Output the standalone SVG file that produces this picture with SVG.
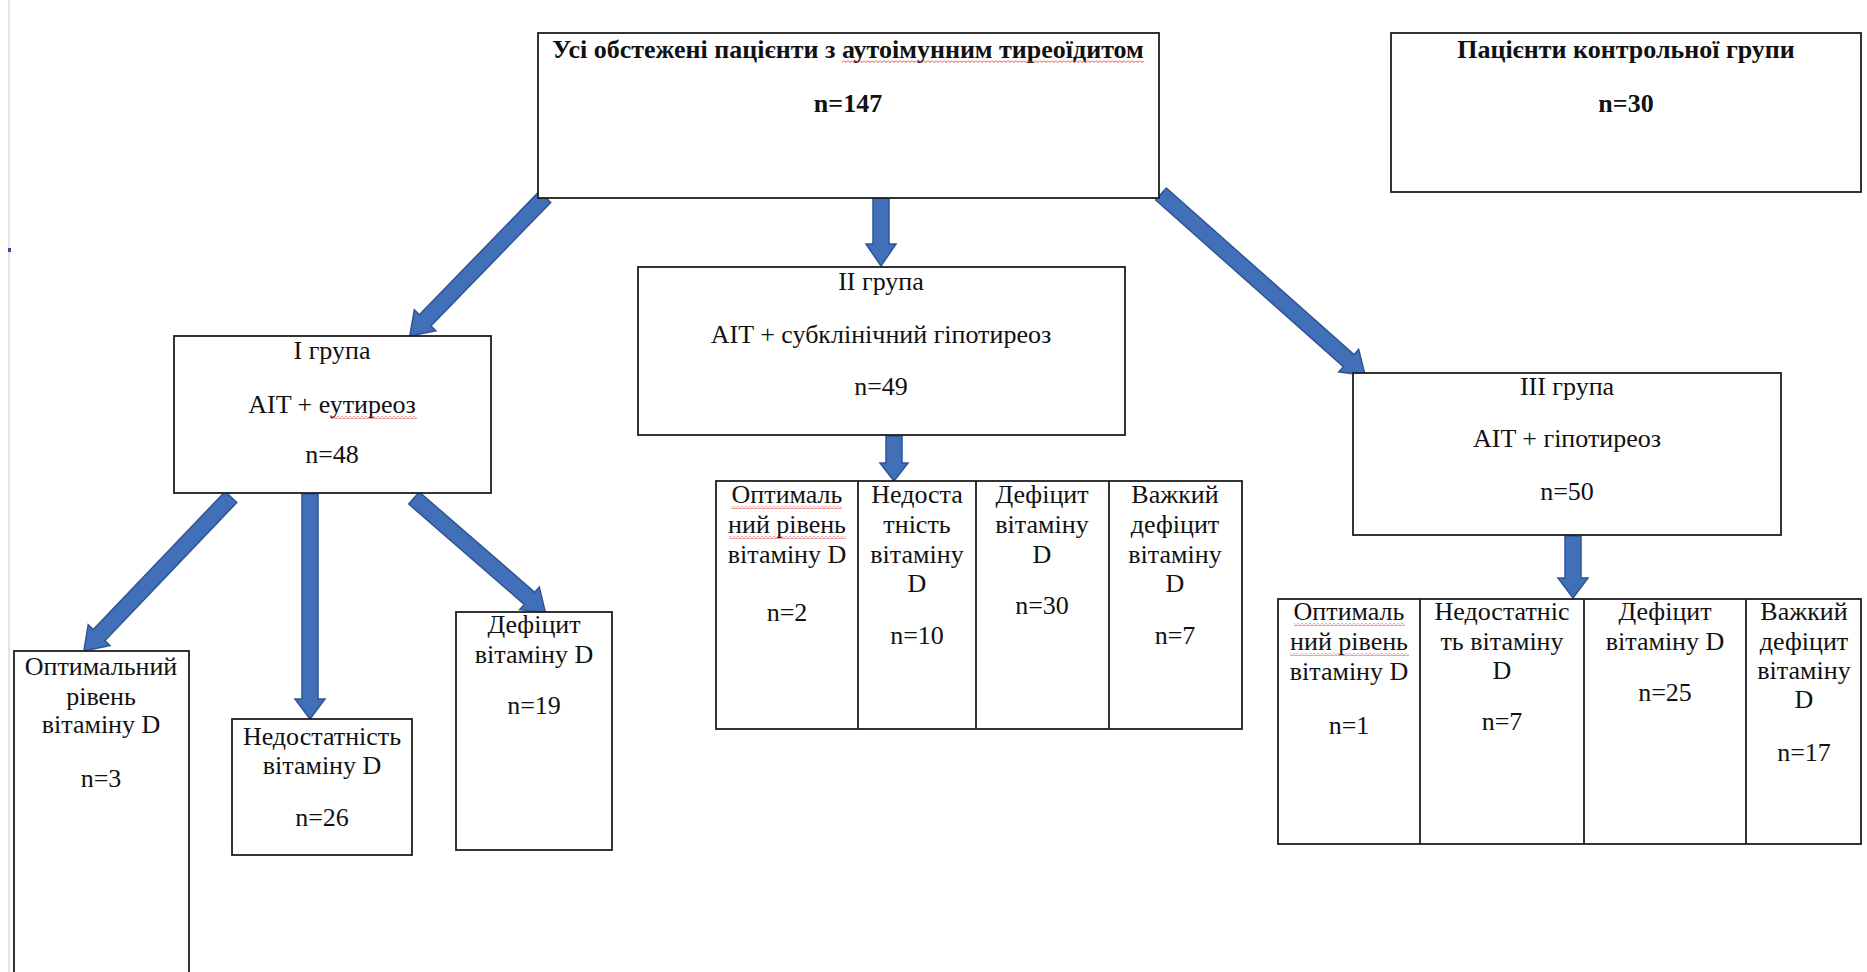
<svg xmlns="http://www.w3.org/2000/svg" width="1867" height="972" viewBox="0 0 1867 972">
<style>
.box{fill:#fff;stroke:#1e1e1e;stroke-width:1.8}
.t{font-family:"Liberation Serif","Times New Roman",serif;font-size:26px;fill:#111;text-anchor:middle}
.b{font-weight:bold}
.arr{fill:#4270b8;stroke:#2e5494;stroke-width:1.5;stroke-linejoin:miter}
.sq{fill:url(#squig)}
</style>
<defs>
<pattern id="squig" patternUnits="userSpaceOnUse" width="4" height="3">
<path d="M0,0.5 L2,2.5 L4,0.5" fill="none" stroke="#e03030" stroke-width="0.9"/>
</pattern>
</defs>
<rect width="1867" height="972" fill="#fff"/>
<line x1="9" y1="0" x2="9" y2="972" stroke="#d4d4d4" stroke-width="1.2"/>
<rect x="8" y="248" width="3" height="4" fill="#3a4aa0"/>

<g id="connectors">
<polygon class="arr" transform="translate(545,197) rotate(134.2)" points="0,-8 172,-8 172,-15 194,0 172,15 172,8 0,8"/>
<polygon class="arr" transform="translate(881,198) rotate(90)" points="0,-8 46,-8 46,-15 68,0 46,15 46,8 0,8"/>
<polygon class="arr" transform="translate(1161,194) rotate(41.6)" points="0,-8 251,-8 251,-15 273,0 251,15 251,8 0,8"/>
<polygon class="arr" transform="translate(894,436) rotate(90)" points="0,-8 27,-8 27,-14 45,0 27,14 27,8 0,8"/>
<polygon class="arr" transform="translate(1573,536) rotate(90)" points="0,-8 42,-8 42,-15 62,0 42,15 42,8 0,8"/>
<polygon class="arr" transform="translate(231,497) rotate(133.7)" points="0,-8 191,-8 191,-15 213,0 191,15 191,8 0,8"/>
<polygon class="arr" transform="translate(310,494) rotate(90)" points="0,-8 205,-8 205,-15 225,0 205,15 205,8 0,8"/>
<polygon class="arr" transform="translate(414,498) rotate(41)" points="0,-8 153,-8 153,-15 174,0 153,15 153,8 0,8"/>
</g>

<g id="all-patients">
<rect class="box" x="538" y="33" width="621" height="165"/>
<text class="t b" x="848" y="58">Усі обстежені пацієнти з аутоімунним тиреоїдитом</text>
<text class="t b" x="848" y="112">n=147</text>
</g>

<g id="control-group">
<rect class="box" x="1391" y="33" width="470" height="159"/>
<text class="t b" x="1626" y="58">Пацієнти контрольної групи</text>
<text class="t b" x="1626" y="112">n=30</text>
</g>

<g id="group-1">
<rect class="box" x="174" y="336" width="317" height="157"/>
<text class="t" x="332" y="359">I група</text>
<text class="t" x="332" y="413">AIT + еутиреоз</text>
<text class="t" x="332" y="463">n=48</text>
</g>

<g id="group-2">
<rect class="box" x="638" y="267" width="487" height="168"/>
<text class="t" x="881" y="290">II група</text>
<text class="t" x="881" y="343">AIT + субклінічний гіпотиреоз</text>
<text class="t" x="881" y="395">n=49</text>
</g>

<g id="group-3">
<rect class="box" x="1353" y="373" width="428" height="162"/>
<text class="t" x="1567" y="395">III група</text>
<text class="t" x="1567" y="447">AIT + гіпотиреоз</text>
<text class="t" x="1567" y="500">n=50</text>
</g>

<g id="g1-optimal">
<rect class="box" x="14" y="651" width="175" height="340"/>
<text class="t" x="101" y="675">Оптимальний</text>
<text class="t" x="101" y="705">рівень</text>
<text class="t" x="101" y="733">вітаміну D</text>
<text class="t" x="101" y="787">n=3</text>
</g>

<g id="g1-insufficient">
<rect class="box" x="232" y="719" width="180" height="136"/>
<text class="t" x="322" y="745">Недостатність</text>
<text class="t" x="322" y="774">вітаміну D</text>
<text class="t" x="322" y="826">n=26</text>
</g>

<g id="g1-deficit">
<rect class="box" x="456" y="612" width="156" height="238"/>
<text class="t" x="534" y="633">Дефіцит</text>
<text class="t" x="534" y="663">вітаміну D</text>
<text class="t" x="534" y="714">n=19</text>
</g>

<g id="g2-table">
<rect class="box" x="716" y="481" width="526" height="248"/>
<line class="box" x1="858" y1="481" x2="858" y2="729"/>
<line class="box" x1="976" y1="481" x2="976" y2="729"/>
<line class="box" x1="1109" y1="481" x2="1109" y2="729"/>
<text class="t" x="787" y="503">Оптималь</text>
<text class="t" x="787" y="533">ний рівень</text>
<text class="t" x="787" y="563">вітаміну D</text>
<text class="t" x="787" y="621">n=2</text>
<text class="t" x="917" y="503">Недоста</text>
<text class="t" x="917" y="533">тність</text>
<text class="t" x="917" y="563">вітаміну</text>
<text class="t" x="917" y="592">D</text>
<text class="t" x="917" y="644">n=10</text>
<text class="t" x="1042" y="503">Дефіцит</text>
<text class="t" x="1042" y="533">вітаміну</text>
<text class="t" x="1042" y="563">D</text>
<text class="t" x="1042" y="614">n=30</text>
<text class="t" x="1175" y="503">Важкий</text>
<text class="t" x="1175" y="533">дефіцит</text>
<text class="t" x="1175" y="563">вітаміну</text>
<text class="t" x="1175" y="592">D</text>
<text class="t" x="1175" y="644">n=7</text>
</g>

<g id="g3-table">
<rect class="box" x="1278" y="599" width="583" height="245"/>
<line class="box" x1="1420" y1="599" x2="1420" y2="844"/>
<line class="box" x1="1584" y1="599" x2="1584" y2="844"/>
<line class="box" x1="1746" y1="599" x2="1746" y2="844"/>
<text class="t" x="1349" y="620">Оптималь</text>
<text class="t" x="1349" y="650">ний рівень</text>
<text class="t" x="1349" y="680">вітаміну D</text>
<text class="t" x="1349" y="734">n=1</text>
<text class="t" x="1502" y="620">Недостатніс</text>
<text class="t" x="1502" y="650">ть вітаміну</text>
<text class="t" x="1502" y="679">D</text>
<text class="t" x="1502" y="730">n=7</text>
<text class="t" x="1665" y="620">Дефіцит</text>
<text class="t" x="1665" y="650">вітаміну D</text>
<text class="t" x="1665" y="701">n=25</text>
<text class="t" x="1804" y="620">Важкий</text>
<text class="t" x="1804" y="650">дефіцит</text>
<text class="t" x="1804" y="679">вітаміну</text>
<text class="t" x="1804" y="708">D</text>
<text class="t" x="1804" y="761">n=17</text>
</g>

<g id="spellcheck-marks">
<rect class="sq" x="842" y="60" width="302" height="3"/>
<rect class="sq" x="331" y="416" width="86" height="3"/>
<rect class="sq" x="731" y="506" width="111" height="3"/>
<rect class="sq" x="729" y="536" width="117" height="3"/>
<rect class="sq" x="1294" y="623" width="111" height="3"/>
<rect class="sq" x="1290" y="653" width="119" height="3"/>
</g>
</svg>
